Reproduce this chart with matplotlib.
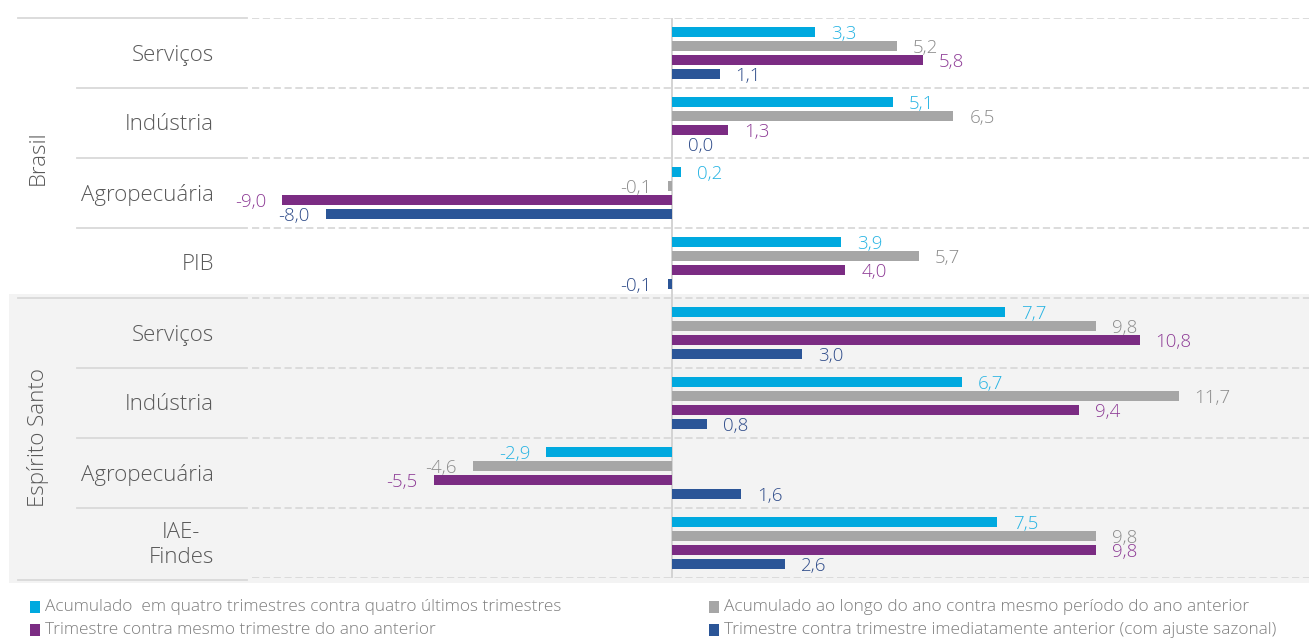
import numpy as np
import matplotlib.pyplot as plt
from matplotlib.patches import Rectangle
from matplotlib.lines import Line2D

plt.rcParams['font.family'] = ['Open Sans', 'DejaVu Sans']
plt.rcParams['font.weight'] = 'light'

categories = ['Serviços', 'Indústria', 'Agropecuária', 'PIB',
              'Serviços', 'Indústria', 'Agropecuária', 'IAE-\nFindes']
groups = ['Brasil', 'Espírito Santo']

series_names = ['Acumulado  em quatro trimestres contra quatro últimos trimestres',
                'Acumulado ao longo do ano contra mesmo período do ano anterior',
                'Trimestre contra mesmo trimestre do ano anterior',
                'Trimestre contra trimestre imediatamente anterior (com ajuste sazonal)']

acum_4tri = [3.3, 5.1, 0.2, 3.9, 7.7, 6.7, -2.9, 7.5]
acum_ano = [5.2, 6.5, -0.1, 5.7, 9.8, 11.7, -4.6, 9.8]
tri_ano = [5.8, 1.3, -9.0, 4.0, 10.8, 9.4, -5.5, 9.8]
tri_ant = [1.1, 0.0, -8.0, -0.1, 3.0, 0.8, 1.6, 2.6]

bar_colors = ['#00A9DF', '#A6A6A6', '#7B2C83', '#2B5597']
label_colors = ['#27B4E3', '#8C8C8C', '#8E3C96', '#2F4C8A']
text_gray = '#595959'
W, H = 1309, 639

fig = plt.figure(figsize=(W / 100, H / 100), dpi=100)

# gray band behind Espirito Santo
fig.patches.append(Rectangle((9 / W, 1 - 583 / H), 1 - 9 / W, (583 - 294) / H,
                             transform=fig.transFigure, facecolor='#F3F3F3',
                             edgecolor='none', zorder=-5))

ax = fig.add_axes([252 / W, 1 - 578 / H, (W - 252) / W, 560 / H])
ax.patch.set_alpha(0)
ax.set_xlim(-420 / 43.3, 637 / 43.3)
ax.set_ylim(7.5, -0.5)
for s in ax.spines.values():
    s.set_visible(False)
ax.set_xticks([])
ax.set_yticks([])

y = np.arange(len(categories))
offsets = [-0.3, -0.1, 0.1, 0.3]
data = [acum_4tri, acum_ano, tri_ano, tri_ant]
for vals, off, c, lc in zip(data, offsets, bar_colors, label_colors):
    ax.barh(y + off, vals, height=0.14, color=c, zorder=3)
    for yi, v in zip(y, vals):
        txt = f'{v:.1f}'.replace('.', ',')
        dx = 11.5 if v >= 0 else -11.5
        ax.annotate(txt, (v, yi + off + 0.03), xytext=(dx, 0), textcoords='offset points',
                    ha='left' if v >= 0 else 'right', va='center',
                    fontsize=13.5, color=lc, zorder=4)

ax.axvline(0, color='#D0D0D0', lw=1.3, zorder=2)

# separators: dashed in plot, solid in the label area
for k in range(len(categories) + 1):
    yy = k - 0.5
    ax.axhline(yy, color='#D9D9D9', lw=1.3, ls=(0, (4, 2)), zorder=1)
    yf = 1 - (18 + 70 * k) / H
    x0 = 18 if k in (0, 4, 8) else 77
    if k == 8:
        yf = 1 - 580 / H
    fig.lines.append(Line2D([x0 / W, 247 / W], [yf, yf], transform=fig.transFigure,
                            color='#D9D9D9', lw=1.3))

for k, cat in enumerate(categories):
    yf = 1 - (55 + 70 * k) / H
    fig.text(214 / W, yf, cat, ha='right', va='center', ma='center',
             fontsize=16, color=text_gray, linespacing=1.3)

for g, name in enumerate(groups):
    fig.text(38 / W, 1 - (158 + 280 * g) / H, name, rotation=90, ha='center',
             va='center', fontsize=16, color=text_gray)

# legend
leg_pos = [(30, 607), (709, 607), (30, 630), (709, 630)]
for (lx, ly), name, c in zip(leg_pos, series_names, bar_colors):
    fig.patches.append(Rectangle((lx / W, 1 - (ly + 6) / H), 10 / W, 12 / H,
                                 transform=fig.transFigure, facecolor=c, edgecolor='none'))
    fig.text((lx + 15) / W, 1 - ly / H, name, ha='left', va='center',
             fontsize=12.4, color='#7F7F7F')

fig.savefig('out.png', dpi=100)
